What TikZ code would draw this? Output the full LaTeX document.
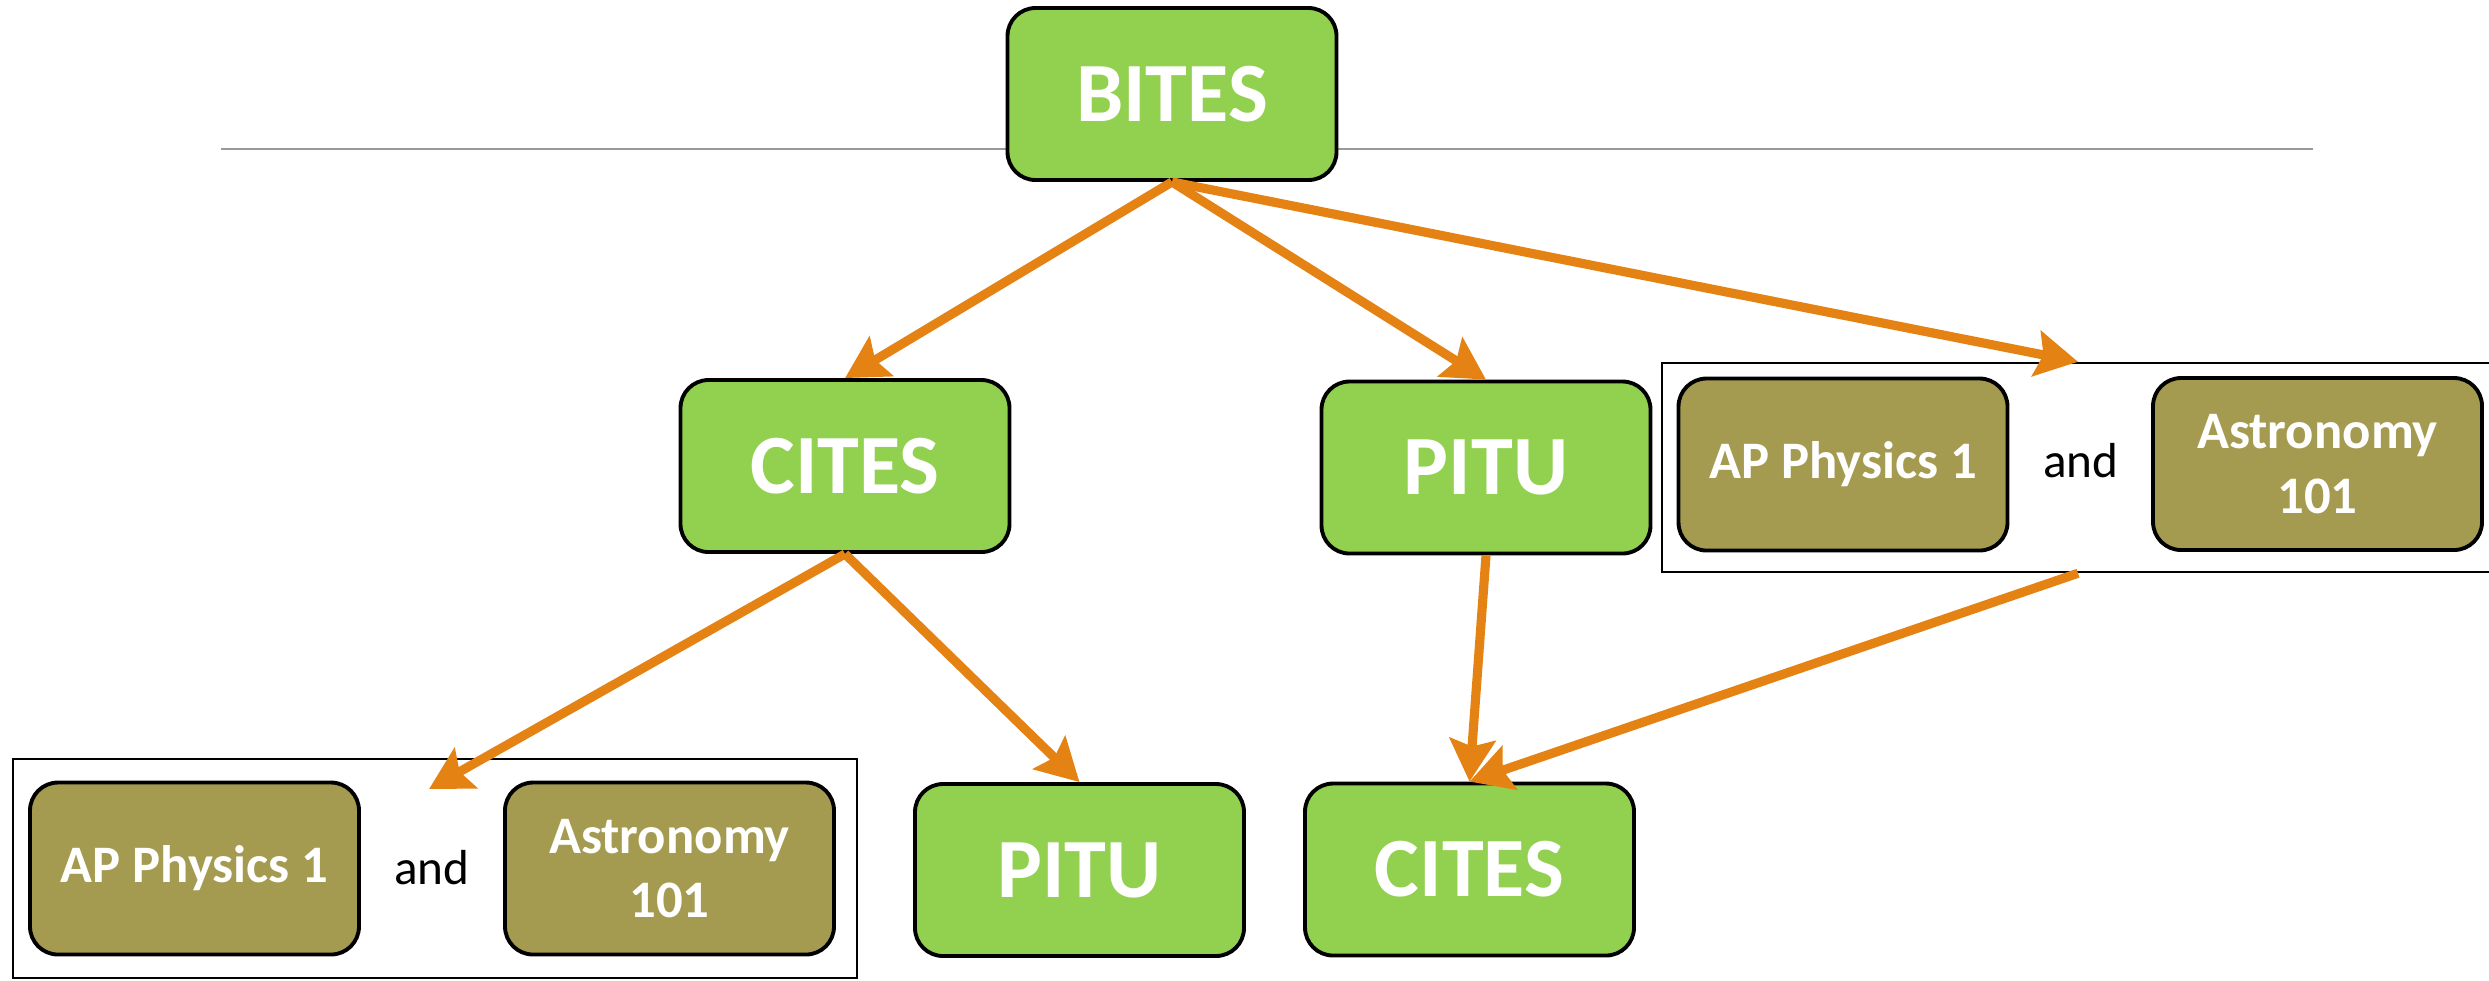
\documentclass[tikz,border=0pt]{standalone}
\usepackage{fontspec}
\setmainfont{Carlito}
\usepackage{xcolor}
\usepackage{tikz}
\usetikzlibrary{
	arrows.meta,    % tips of the orange arrows
	calc
}
\definecolor{boxgreen}{RGB}{146,208,80}
\definecolor{boxolive}{RGB}{165,155,80}
\definecolor{arrorange}{RGB}{228,131,20}

\begin{document}
\begin{tikzpicture}[>={Stealth[length=12pt,width=13pt,inset=2pt]},
	greenbox/.style={draw, line width=1.1pt, rounded corners=0.28cm, fill=boxgreen,
		minimum width=3.29cm, minimum height=1.72cm, text=white,
		font=\bfseries\fontsize{24}{29}\selectfont},
	olivebox/.style={draw, line width=1.1pt, rounded corners=0.28cm, fill=boxolive,
		minimum width=3.29cm, minimum height=1.72cm, text=white, align=center,
		font=\bfseries\fontsize{15}{18.4}\selectfont},
	grp/.style={draw, line width=0.7pt, inner sep=0pt},
	andtext/.style={font=\fontsize{14}{17}\selectfont},
	link/.style={->, draw=arrorange, line width=2.6pt}]
	% Size of the page
	\useasboundingbox (0,0) rectangle (24.89,-9.80);
	
	% --- Top ---
	% Thin grey rule behind the root box
	\draw[black!40, line width=0.5pt] (2.21,-1.49) -- (23.13,-1.49);
	\node[greenbox] (bites) at (11.72,-0.94) {BITES};
	
	% --- Second row ---
	\node[greenbox] (citesA) at (8.45,-4.66) {CITES};
	\node[greenbox] (pituA) at (14.86,-4.675) {PITU};
	% Group: both courses
	\node[grp, minimum width=8.32cm, minimum height=2.09cm] (grpA) at (20.78,-4.675) {};
	\node[olivebox] (apA) at (18.43,-4.645) {AP Physics 1};
	\node[andtext] (andA) at (20.81,-4.61) {and};
	\node[olivebox] (astA) at (23.175,-4.64) {Astronomy\\101};
	
	% --- Third row ---
	\node[grp, minimum width=8.44cm, minimum height=2.19cm] (grpB) at (4.35,-8.685) {};
	\node[olivebox] (apB) at (1.945,-8.685) {AP Physics 1};
	\node[andtext] (andB) at (4.32,-8.68) {and};
	\node[olivebox] (astB) at (6.695,-8.685) {Astronomy\\101};
	\node[greenbox] (pituB) at (10.795,-8.70) {PITU};
	\node[greenbox] (citesB) at (14.695,-8.695) {CITES};
	% Tip of the arrow into the lower group
	\coordinate (tipB) at (4.29,-7.89);
	
	% --- Arrows ---
	\draw[link] (bites.south) -- (citesA.north);
	\draw[link] (bites.south) -- (pituA.north);
	\draw[link] (bites.south) -- (grpA.north);
	\draw[link] (citesA.south) -- (tipB);
	\draw[link] (citesA.south) -- (pituB.north);
	\draw[link] (pituA.south) -- (citesB.north);
	\draw[link] (grpA.south) -- (citesB.north);
\end{tikzpicture}
\end{document}
